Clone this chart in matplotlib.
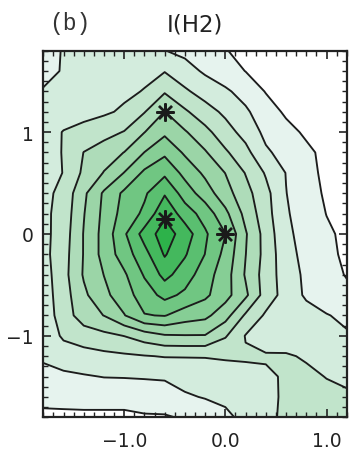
import numpy as np
import matplotlib
matplotlib.use("Agg")
import matplotlib.pyplot as plt
from matplotlib.ticker import FixedLocator, MultipleLocator, FixedFormatter

# Grid positions (offsets)
x_pos = [-1.8, -1.6, -1.4, -1.2, -1.0, -0.8, -0.6, -0.4, -0.2,
         0.0, 0.2, 0.4, 0.6, 0.8, 1.0, 1.2]
y_pos = [1.8, 1.6, 1.4, 1.2, 1.0, 0.8, 0.6, 0.4, 0.2, 0.0,
         -0.2, -0.4, -0.6, -0.8, -1.0, -1.2, -1.4, -1.6, -1.8]

# I(H2) intensity, one row per y position (top to bottom), in contour-level units
row_p18 = [1.7, 2.05, 2.2, 2.3, 2.35, 2.3, 2.02, 1.75, 1.5, 1.05, 0.7, 0.4, 0.2, 0.1, 0.05, 0.0]
row_p16 = [1.6, 2.1, 2.3, 2.45, 2.6, 2.75, 2.95, 2.4, 1.85, 1.45, 0.98, 0.6, 0.35, 0.2, 0.1, 0.05]
row_p14 = [2.1, 2.3, 2.45, 2.6, 2.8, 3.05, 3.9, 3.15, 2.6, 2.15, 1.65, 0.95, 0.6, 0.4, 0.25, 0.15]
row_p12 = [2.3, 2.5, 2.65, 2.85, 3.15, 3.95, 5.02, 4.15, 3.4, 2.8, 2.15, 1.45, 0.85, 0.6, 0.4, 0.3]
row_p10 = [2.5, 3.05, 3.35, 3.65, 4.05, 4.98, 5.8, 5.1, 4.3, 3.4, 2.65, 1.75, 1.3, 0.85, 0.6, 0.45]
row_p08 = [2.6, 3.05, 4.02, 4.5, 5.02, 6.02, 6.8, 5.85, 5.1, 4.15, 3.3, 2.15, 1.65, 1.2, 0.75, 0.55]
row_p06 = [2.7, 3.02, 4.2, 5.05, 6.03, 7.2, 7.8, 6.7, 5.8, 4.98, 3.95, 2.9, 1.97, 1.35, 0.75, 0.5]
row_p04 = [2.7, 3.3, 4.8, 6.15, 7.2, 7.85, 8.9, 7.55, 6.5, 5.4, 4.35, 3.3, 2.02, 1.45, 0.85, 0.6]
row_p02 = [2.75, 3.4, 4.95, 6.25, 7.4, 8.2, 9.8, 8.5, 7.6, 6.25, 4.7, 3.4, 2.1, 1.55, 0.98, 0.7]
row_000 = [2.7, 3.5, 5.05, 6.35, 7.85, 9.4, 10.5, 9.55, 8.15, 7.02, 5.1, 3.6, 2.2, 1.65, 1.15, 0.8]
row_m02 = [2.7, 3.6, 5.05, 6.35, 7.5, 8.65, 10.1, 9.1, 7.98, 6.7, 5.02, 3.65, 2.35, 1.7, 1.2, 0.85]
row_m04 = [2.55, 3.65, 5.1, 6.02, 6.85, 8.1, 9.3, 8.5, 7.45, 6.45, 4.9, 3.55, 2.5, 1.8, 1.3, 0.95]
row_m06 = [2.5, 3.55, 4.8, 5.75, 6.55, 7.5, 8.3, 7.8, 7.2, 6.35, 5.2, 3.55, 2.6, 1.85, 1.5, 1.2]
row_m08 = [2.45, 3.45, 4.55, 5.02, 5.95, 6.95, 7.05, 6.5, 6.25, 5.4, 3.85, 2.85, 2.55, 2.4, 2.05, 1.8]
row_m10 = [2.35, 3.15, 3.45, 3.75, 4.02, 4.5, 4.9, 4.95, 4.95, 4.1, 2.95, 2.5, 2.45, 2.4, 2.3, 2.1]
row_m12 = [2.15, 2.5, 2.65, 2.75, 2.85, 2.95, 3.05, 3.05, 3.05, 3.1, 3.1, 3.1, 3.1, 2.9, 2.6, 2.45]
row_m14 = [1.7, 1.8, 1.92, 2.03, 2.05, 2.08, 2.1, 2.3, 2.45, 2.6, 2.75, 2.85, 3.1, 3.2, 2.97, 2.8]
row_m16 = [1.25, 1.3, 1.35, 1.35, 1.35, 1.45, 1.6, 1.9, 2.05, 2.2, 2.5, 2.75, 3.15, 3.3, 3.25, 3.15]
row_m18 = [0.8, 0.8, 0.8, 0.8, 0.8, 0.9, 0.9, 1.1, 1.5, 1.8, 2.25, 2.75, 3.2, 3.35, 3.35, 3.3]

rows = [row_p18, row_p16, row_p14, row_p12, row_p10, row_p08, row_p06,
        row_p04, row_p02, row_000, row_m02, row_m04, row_m06, row_m08,
        row_m10, row_m12, row_m14, row_m16, row_m18]

# Marked positions
star_x = [-0.6, -0.6, 0.0]
star_y = [1.2, 0.15, 0.0]

# Contour levels and tick labels
contour_levels = [1, 2, 3, 4, 5, 6, 7, 8, 9, 10]
x_ticks = [-1.0, 0.0, 1.0]
x_tick_labels = ["\u22121.0", "0.0", "1.0"]
y_ticks = [-1, 0, 1]
y_tick_labels = ["\u22121", "0", "1"]

fill_colors = ["#ffffff", "#e6f3ee", "#d3ecdd", "#c1e4cb", "#aedcb9",
               "#9bd5a7", "#86ce95", "#70c682", "#5abf70", "#44b85d", "#2db24a"]

X, Y = np.meshgrid(np.array(x_pos), np.array(y_pos[::-1]))
Z = np.array(rows[::-1])

fig = plt.figure(figsize=(3.5, 4.6), dpi=100)
ax = fig.add_axes([0.1237, 0.0907, 0.867, 0.797])

fill_levels = [-1] + contour_levels + [11]
ax.contourf(X, Y, Z, levels=fill_levels, colors=fill_colors)
ax.contour(X, Y, Z, levels=contour_levels, colors="#1c1c1c", linewidths=1.35)

ax.plot(star_x, star_y, linestyle="none", marker=(8, 2, 0), markersize=13,
        markeredgewidth=1.7, color="#1a1a1a", zorder=5)

ax.set_xlim(-1.8, 1.2)
ax.set_ylim(-1.8, 1.8)

ax.xaxis.set_major_locator(FixedLocator(x_ticks))
ax.xaxis.set_major_formatter(FixedFormatter(x_tick_labels))
ax.yaxis.set_major_locator(FixedLocator(y_ticks))
ax.yaxis.set_major_formatter(FixedFormatter(y_tick_labels))
ax.xaxis.set_minor_locator(MultipleLocator(0.1))
ax.yaxis.set_minor_locator(MultipleLocator(0.1))

ax.tick_params(which="both", direction="in", top=True, right=True,
               color="#222222", labelcolor="#222222")
ax.tick_params(which="major", length=6, width=1.2, labelsize=13.5)
ax.tick_params(which="minor", length=3.5, width=1.0)
ax.tick_params(axis="x", which="major", pad=10)
ax.tick_params(axis="y", which="major", pad=7)
for lab in ax.get_xticklabels() + ax.get_yticklabels():
    lab.set_family("DejaVu Sans")

for sp in ax.spines.values():
    sp.set_linewidth(1.6)
    sp.set_color("#222222")

fig.text(0.557, 0.931, "I(H2)", ha="center", va="baseline", fontsize=16.5,
         family="DejaVu Sans", color="#222222")
fig.text(0.140, 0.935, "(b)", ha="left", va="baseline", fontsize=16.5,
         family="Liberation Mono", color="#333333")

fig.savefig("out.png", dpi=100)
